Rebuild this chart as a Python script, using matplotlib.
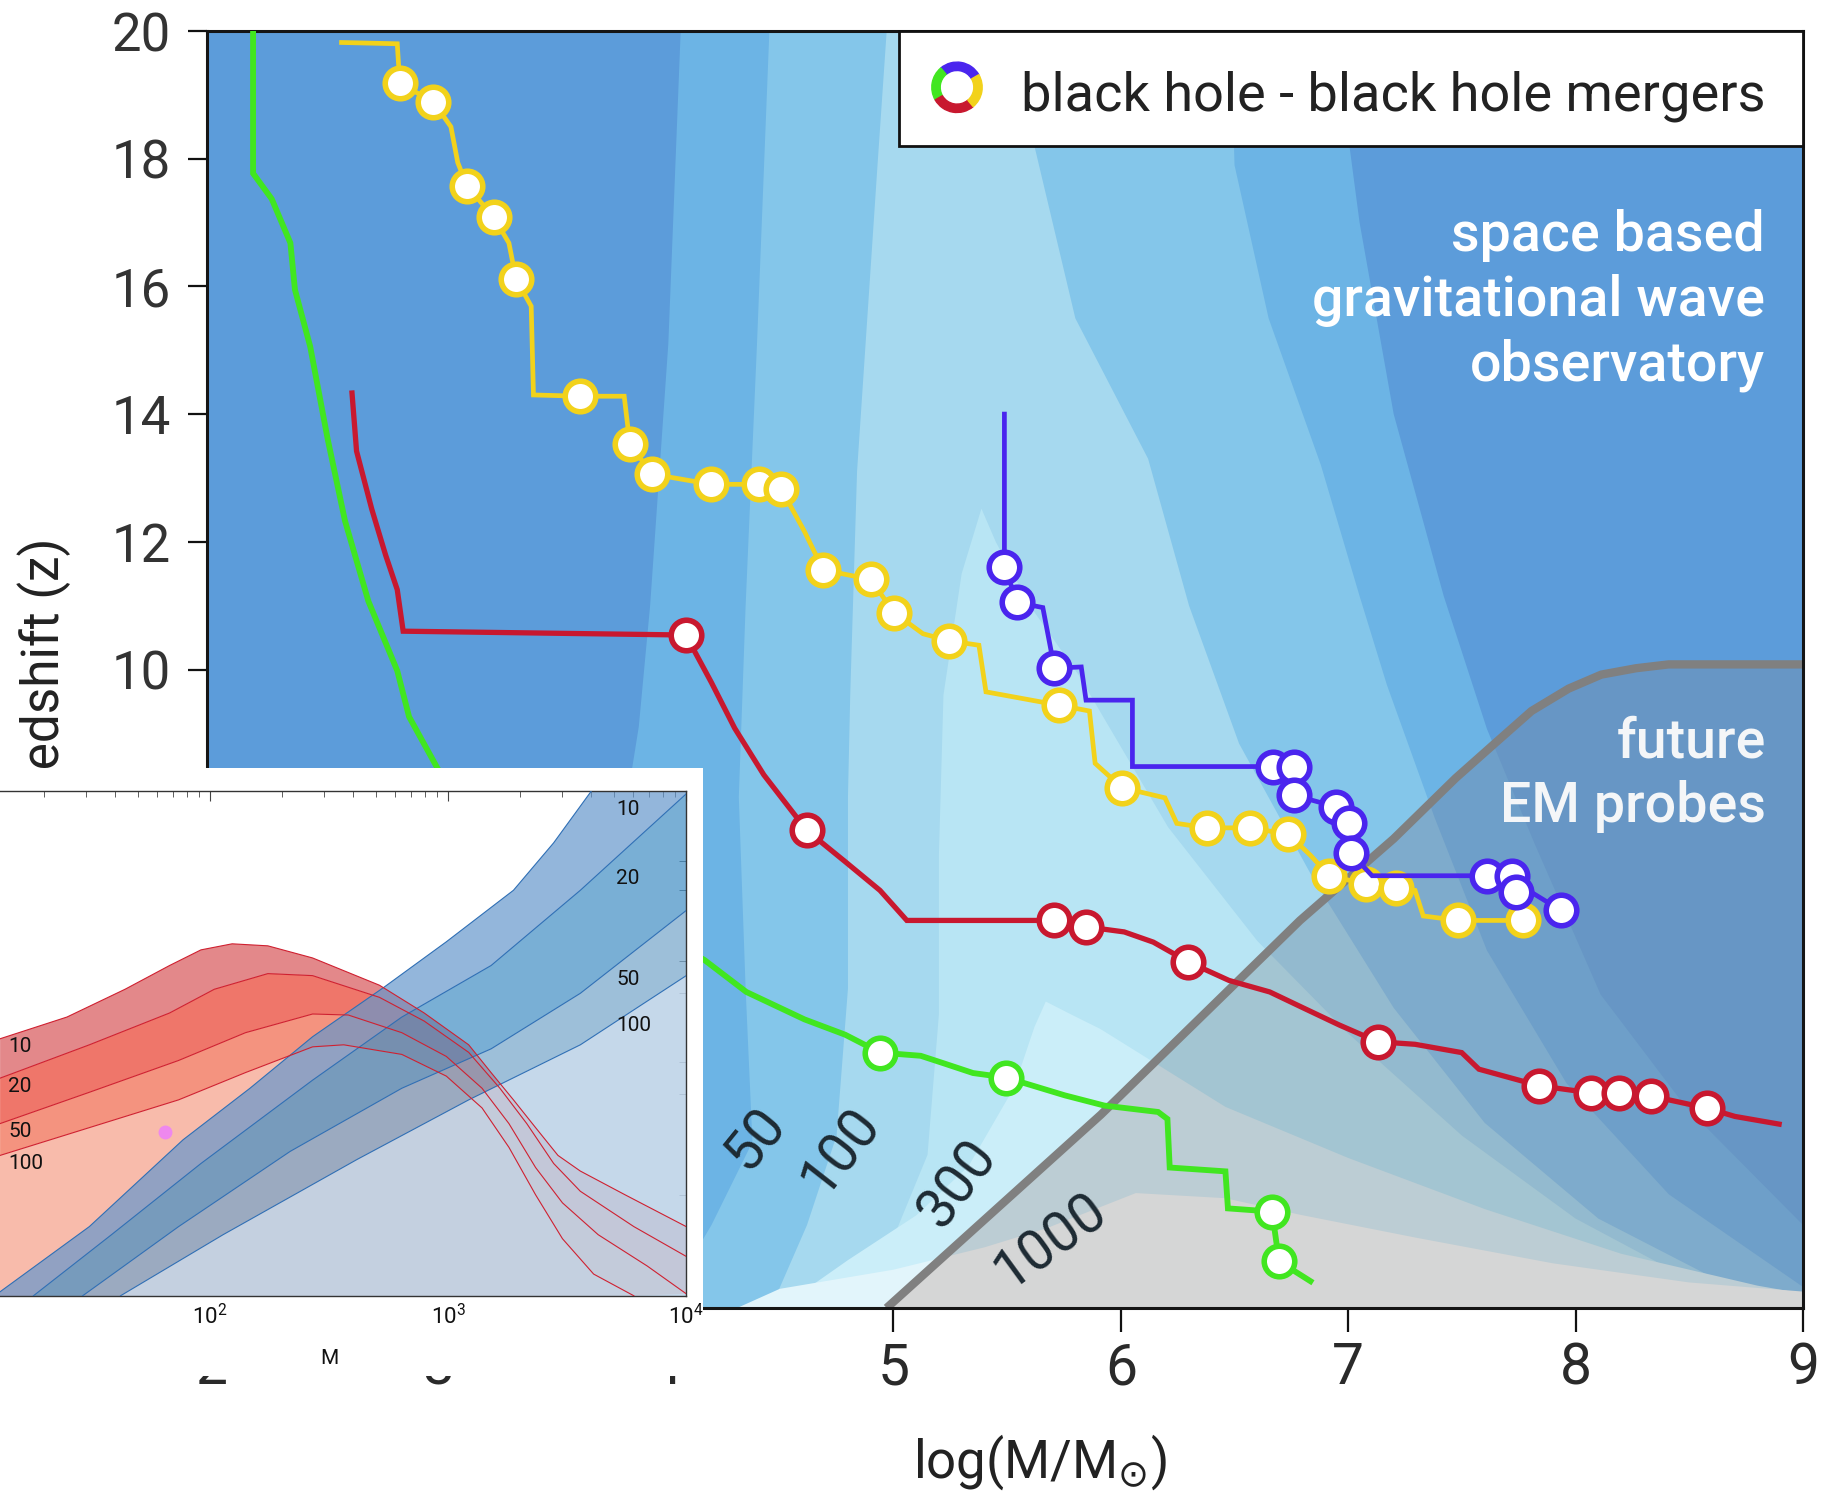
import numpy as np
import matplotlib
matplotlib.use("Agg")
import matplotlib.pyplot as plt
from matplotlib.patches import Polygon, Rectangle, Wedge
from matplotlib.ticker import NullLocator

plt.rcParams['font.family'] = ['Roboto', 'DejaVu Sans']

# ---------------- main panel: merger tracks (log M, z) ----------------
yellow_x = [2.573, 2.818, 2.829, 2.977, 3.054, 3.084, 3.125, 3.243, 3.309, 3.340, 3.407, 3.417,
            3.621, 3.816, 3.841, 3.939, 4.199, 4.409, 4.506, 4.609, 4.691, 4.900, 5.003, 5.130,
            5.243, 5.376, 5.407, 5.729, 5.862, 5.887, 6.005, 6.194, 6.246, 6.378, 6.568, 6.737,
            6.834, 6.916, 7.079, 7.212, 7.294, 7.330, 7.483, 7.770, 7.821]
yellow_z = [19.82, 19.80, 19.18, 18.89, 18.50, 17.94, 17.57, 17.08, 16.68, 16.12, 15.69, 14.30,
            14.28, 14.28, 13.53, 13.06, 12.90, 12.90, 12.83, 12.16, 11.56, 11.41, 10.89, 10.56,
            10.45, 10.38, 9.65, 9.44, 9.35, 8.53, 8.15, 7.99, 7.59, 7.52, 7.52, 7.42,
            7.09, 6.77, 6.64, 6.58, 6.54, 6.14, 6.07, 6.07, 5.99]
yellow_mx = [2.829, 2.977, 3.125, 3.243, 3.340, 3.621, 3.841, 3.939, 4.199, 4.409, 4.506, 4.691,
             4.900, 5.003, 5.243, 5.729, 6.005, 6.378, 6.568, 6.737, 6.916, 7.079, 7.212, 7.483, 7.770]
yellow_mz = [19.18, 18.89, 17.57, 17.08, 16.12, 14.28, 13.53, 13.06, 12.90, 12.90, 12.83, 11.56,
             11.41, 10.89, 10.45, 9.44, 8.15, 7.52, 7.52, 7.42, 6.77, 6.64, 6.58, 6.07, 6.07]

red_x = [2.619, 2.639, 2.706, 2.767, 2.818, 2.844, 4.087, 4.199, 4.302, 4.430, 4.619, 4.788,
         4.941, 5.059, 5.708, 5.847, 6.015, 6.143, 6.297, 6.476, 6.655, 6.808, 6.962, 7.130,
         7.294, 7.499, 7.575, 7.841, 8.066, 8.189, 8.332, 8.578, 8.701, 8.895]
red_z = [14.33, 13.42, 12.51, 11.79, 11.25, 10.60, 10.54, 9.80, 9.08, 8.35, 7.48, 6.99,
         6.54, 6.07, 6.07, 5.97, 5.89, 5.73, 5.42, 5.13, 4.95, 4.69, 4.43, 4.17,
         4.13, 4.00, 3.74, 3.48, 3.37, 3.37, 3.32, 3.13, 3.00, 2.88]
red_mx = [4.087, 4.619, 5.708, 5.847, 6.297, 7.130, 7.841, 8.066, 8.189, 8.332, 8.578]
red_mz = [10.54, 7.48, 6.07, 5.97, 5.42, 4.17, 3.48, 3.37, 3.37, 3.32, 3.13]

green_x = [2.184, 2.184, 2.266, 2.348, 2.368, 2.435, 2.512, 2.588, 2.691, 2.818, 2.870, 2.997,
           3.228, 3.739, 4.169, 4.353, 4.609, 4.788, 4.941, 5.120, 5.223, 5.350, 5.494, 5.754,
           5.928, 6.164, 6.205, 6.215, 6.460, 6.471, 6.665, 6.696, 6.834]
green_z = [20.0, 17.77, 17.37, 16.68, 15.95, 15.06, 13.61, 12.33, 11.07, 9.98, 9.26, 8.44,
           7.44, 6.36, 5.45, 4.95, 4.52, 4.28, 4.00, 3.95, 3.83, 3.68, 3.61, 3.33,
           3.17, 3.07, 2.96, 2.20, 2.14, 1.56, 1.51, 0.73, 0.42]
green_mx = [4.941, 5.494, 6.665, 6.696]
green_mz = [4.00, 3.61, 1.51, 0.73]

purple_x = [5.488, 5.488, 5.545, 5.657, 5.708, 5.826, 5.847, 6.051, 6.051, 6.670, 6.762,
            6.762, 6.946, 7.003, 7.013, 7.105, 7.611, 7.719, 7.739, 7.806, 7.934]
purple_z = [14.00, 11.61, 11.05, 10.97, 10.02, 10.04, 9.52, 9.52, 8.48, 8.48, 8.48,
            8.03, 7.85, 7.59, 7.12, 6.77, 6.77, 6.77, 6.51, 6.51, 6.23]
purple_mx = [5.488, 5.545, 5.708, 6.670, 6.762, 6.762, 6.946, 7.003, 7.013, 7.611, 7.719, 7.739, 7.934]
purple_mz = [11.61, 11.05, 10.02, 8.48, 8.48, 8.03, 7.85, 7.59, 7.12, 6.77, 6.77, 6.51, 6.23]

# future EM probes boundary
em_x = [4.97, 5.913, 6.788, 7.200, 7.473, 7.647, 7.806, 7.969, 8.113, 8.266, 8.409, 9.0]
em_z = [0.0, 3.03, 6.07, 7.35, 8.30, 8.85, 9.35, 9.70, 9.92, 10.02, 10.08, 10.08]

# SNR contour regions of the space based observatory (outline of each level)
snr20_x = [3.20, 3.45, 3.70, 3.88, 3.93, 4.01, 4.07, 6.92, 7.05, 7.20, 7.42, 7.61, 7.82, 8.11, 8.48, 9.00, 9.20]
snr20_z = [-0.5, 2.1, 5.1, 9.1, 11.0, 15.1, 20.5, 20.5, 17.0, 14.0, 11.15, 9.07, 7.27, 4.91, 3.17, 1.30, -0.5]
snr50_x = [3.90, 4.20, 4.38, 4.35, 4.32, 4.35, 4.40, 4.46, 6.48, 6.50, 6.65, 6.88, 7.05, 7.17, 7.38, 7.61, 7.96, 8.41, 9.00, 9.20]
snr50_z = [-0.5, 1.3, 2.6, 5.0, 8.0, 11.0, 15.1, 20.5, 20.5, 17.9, 15.5, 13.2, 11.15, 9.76, 7.68, 5.60, 3.52, 1.78, 0.33, -0.5]
snr100_x = [4.40, 4.62, 4.75, 4.80, 4.80, 4.81, 4.84, 4.93, 4.98, 5.58, 5.62, 5.80, 6.12, 6.30, 6.52, 6.85, 7.20, 7.60, 8.10, 8.70, 8.90]
snr100_z = [-0.5, 1.3, 2.7, 5.0, 8.0, 9.6, 13.1, 17.9, 20.5, 20.5, 18.2, 15.5, 13.3, 11.0, 8.84, 6.7, 4.7, 2.9, 1.4, 0.3, -0.5]
snr200_x = [4.80, 5.00, 5.15, 5.20, 5.20, 5.22, 5.30, 5.387, 5.45, 5.60, 5.815, 6.208, 6.60, 7.00, 7.50, 8.00, 8.50, 8.80]
snr200_z = [-0.5, 1.1, 2.4, 4.6, 7.1, 9.6, 11.5, 12.52, 12.0, 11.0, 9.91, 7.53, 5.75, 4.3, 2.7, 1.4, 0.45, -0.5]
snr300_x = [4.30, 4.80, 5.10, 5.33, 5.53, 5.62, 5.67, 5.78, 5.91, 6.46, 7.00, 7.60, 8.20, 8.80, 9.20, 9.20]
snr300_z = [-0.5, 0.75, 1.45, 2.22, 3.45, 4.4, 4.80, 4.6, 4.37, 3.15, 2.35, 1.55, 0.85, 0.35, 0.1, -0.5]
snr1000_x = [4.00, 4.50, 5.00, 5.40, 5.674, 6.066, 6.459, 6.789, 7.30, 7.90, 8.50, 9.20, 9.20]
snr1000_z = [-0.5, 0.3, 0.6, 0.95, 1.25, 1.80, 1.72, 1.46, 1.10, 0.70, 0.40, 0.20, -0.5]

sky_colors = ['#6cb4e5', '#84c6ea', '#a6d9ef', '#b8e5f4', '#cbeef9', '#e2f5fb']
em_colors = ['#6e9fc9', '#7eabcc', '#93bacf', '#a3c5d2', '#bccdd4', '#d5d6d6']
dark_sky = '#5c9cda'
dark_em = '#6796c5'

contour_labels = ['50', '100', '300', '1000']
label_x = [4.395, 4.769, 5.281, 5.691]
label_z = [2.65, 2.45, 1.94, 1.05]
label_rot = [51, 52, 53, 36]

# ---------------- inset: (M, arbitrary) bands ----------------
blue10_m = [1.118, 1.493, 1.887, 2.168, 2.431, 2.731, 2.993, 3.275, 3.444, 3.603]
blue10_y = [0.008, 0.137, 0.309, 0.411, 0.513, 0.611, 0.701, 0.803, 0.897, 1.000]
blue20_m = [1.258, 1.586, 1.962, 2.431, 2.806, 3.181, 3.556, 4.001]
blue20_y = [0.000, 0.121, 0.262, 0.427, 0.552, 0.654, 0.803, 0.994]
blue50_m = [1.465, 1.868, 2.337, 2.806, 3.181, 3.556, 4.001]
blue50_y = [0.000, 0.137, 0.286, 0.411, 0.489, 0.599, 0.763]
blue100_m = [1.624, 2.055, 2.618, 3.087, 3.556, 4.001]
blue100_y = [0.000, 0.121, 0.270, 0.388, 0.497, 0.634]

red10_m = [1.118, 1.399, 1.643, 1.830, 1.962, 2.093, 2.243, 2.431, 2.712, 2.900, 3.087, 3.181,
           3.275, 3.368, 3.462, 3.556, 3.744, 4.001]
red10_y = [0.509, 0.552, 0.607, 0.654, 0.685, 0.697, 0.693, 0.669, 0.615, 0.560, 0.497, 0.442,
           0.388, 0.333, 0.278, 0.247, 0.200, 0.137]
red20_m = [1.118, 1.493, 1.830, 2.018, 2.243, 2.431, 2.712, 2.900, 3.087, 3.218, 3.331, 3.444,
           3.556, 3.781, 4.001]
red20_y = [0.431, 0.497, 0.560, 0.607, 0.638, 0.634, 0.591, 0.544, 0.482, 0.411, 0.341, 0.262,
           0.207, 0.137, 0.078]
red50_m = [1.118, 1.493, 1.868, 2.149, 2.431, 2.581, 2.806, 2.993, 3.143, 3.256, 3.368, 3.481,
           3.631, 3.837, 4.001]
red50_y = [0.341, 0.403, 0.466, 0.521, 0.558, 0.556, 0.521, 0.474, 0.411, 0.341, 0.254, 0.184,
           0.121, 0.059, 0.004]
red100_m = [1.118, 1.493, 1.868, 2.149, 2.431, 2.562, 2.806, 2.993, 3.143, 3.256, 3.368, 3.481,
            3.612, 3.781]
red100_y = [0.278, 0.333, 0.388, 0.442, 0.493, 0.497, 0.478, 0.435, 0.372, 0.294, 0.200, 0.113,
            0.043, 0.000]

red_fill = ['#e3888a', '#ef766a', '#f4937f', '#f8bbab']
blue_fill = ['#6597cc', '#418ec4', '#74a4c9', '#bdd3e8']
blue_alpha = [0.7, 0.7, 0.7, 0.88]
band_names = ['10', '20', '50', '100']
red_label_y = [0.494, 0.415, 0.325, 0.262]
blue_label_y = [0.963, 0.826, 0.626, 0.536]
dot_m, dot_y = 1.812, 0.325
inset_yticks = [0.200, 0.399, 0.462, 0.599, 0.662, 0.803, 0.861]

W, H = 1826, 1496
fig = plt.figure(figsize=(W / 100, H / 100), dpi=100)
fig.patch.set_facecolor('white')

ax = fig.add_axes([206.7 / W, 1 - 1308 / H, 1596.3 / W, 1277 / H])
ax.set_facecolor(dark_sky)
ax.set_xlim(1.98, 9.0)
ax.set_ylim(0.15, 20.0)

bands = [(snr20_x, snr20_z), (snr50_x, snr50_z), (snr100_x, snr100_z),
         (snr200_x, snr200_z), (snr300_x, snr300_z), (snr1000_x, snr1000_z)]
for (bx, bz), col in zip(bands, sky_colors):
    ax.fill(bx, bz, color=col, lw=0, zorder=0.5)

# EM probe region: same contours, greyed
em_poly = Polygon(np.column_stack([[4.92] + em_x + [9.2, 9.2], [-0.2] + em_z + [10.08, -0.5]]),
                  closed=True, facecolor=dark_em, edgecolor='none', zorder=0.8)
ax.add_patch(em_poly)
for (bx, bz), col in zip(bands, em_colors):
    p = ax.fill(bx, bz, color=col, lw=0, zorder=0.9)[0]
    p.set_clip_path(em_poly)
ax.plot(em_x, em_z, color='#808080', lw=6, solid_capstyle='butt', zorder=2)

for txt, lx, lz, rot in zip(contour_labels, label_x, label_z, label_rot):
    ax.text(lx, lz, txt, rotation=rot, rotation_mode='anchor', ha='center', va='center',
            fontsize=40, color='#1d2a33', zorder=2.6)

tracks = [(green_x, green_z, green_mx, green_mz, '#41e620', 4.2),
          (red_x, red_z, red_mx, red_mz, '#c8182f', 3.8),
          (yellow_x, yellow_z, yellow_mx, yellow_mz, '#f2d21b', 3.4),
          (purple_x, purple_z, purple_mx, purple_mz, '#4a25ee', 3.4)]
for i, (tx, tz, mx, mz, col, lw) in enumerate(tracks):
    ax.plot(tx, tz, color=col, lw=lw, zorder=3 + i * 0.2, solid_joinstyle='miter')
    ax.plot(mx, mz, 'o', ms=22, mfc='white', mec=col, mew=4, zorder=3.1 + i * 0.2)

ax.text(0.976, 0.789, 'space based\ngravitational wave\nobservatory', transform=ax.transAxes,
        ha='right', va='center', multialignment='right', linespacing=1.28,
        fontsize=40, fontweight='medium', color='white', zorder=5)
ax.text(0.977, 0.418, 'future\nEM probes', transform=ax.transAxes,
        ha='right', va='center', multialignment='right', linespacing=1.28,
        fontsize=40, fontweight='medium', color='#f4f6f8', zorder=5)

ax.add_patch(Rectangle((0.4337, 0.9103), 0.5663, 0.0897, transform=ax.transAxes,
                       facecolor='white', edgecolor='#111111', lw=2, zorder=6, clip_on=False))
ax.text(0.510, 0.938, 'black hole - black hole mergers', transform=ax.transAxes,
        ha='left', va='baseline', fontsize=39, color='#222222', zorder=7)

ax.set_xticks(range(2, 10))
ax.set_yticks(range(0, 21, 2))
ax.tick_params(axis='x', direction='out', length=17, width=1.6, pad=7, labelsize=41,
               labelcolor='#2a2a2a', color='#111111')
ax.tick_params(axis='y', direction='out', length=14, width=1.6, pad=12, labelsize=38,
               labelcolor='#333333', color='#111111')
for s in ax.spines.values():
    s.set_linewidth(2.2)
    s.set_color('#151515')
ax.set_xlabel(r'log(M/M$_{\odot}$)', fontsize=38, color='#222222', va='center')
ax.xaxis.set_label_coords(0.522, -0.121)
ax.set_ylabel('Redshift (z)', fontsize=37, color='#222222', va='center')
ax.yaxis.set_label_coords(-0.102, 0.5)

# legend ring icon
ring = fig.add_axes([(957 - 28) / W, 1 - (87.3 + 28) / H, 56 / W, 56 / H])
ring.set_zorder(3)
ring.set_xlim(-1, 1)
ring.set_ylim(-1, 1)
ring.set_aspect('equal')
ring.axis('off')
for t1, t2, col in [(30, 130, '#4a25ee'), (130, 210, '#41e620'), (210, 310, '#c8182f'), (310, 390, '#f2d21b')]:
    ring.add_patch(Wedge((0, 0), 0.9, t1, t2, width=0.3, color=col))

# ---------------- inset ----------------
fig.add_artist(Rectangle((0, 1 - 1376 / H), 702.5 / W, (1376 - 767.7) / H,
                         transform=fig.transFigure, facecolor='white', edgecolor='none', zorder=1))
axi = fig.add_axes([-28 / W, 1 - 1295.8 / H, 714 / W, 505 / H])
axi.set_zorder(2)
axi.set_facecolor('white')
axi.set_xscale('log')
axi.set_xlim(10, 1e4)
axi.set_ylim(0, 1)


def m(a):
    return np.power(10.0, np.asarray(a, dtype=float))


red_lines = [(red10_m, red10_y), (red20_m, red20_y), (red50_m, red50_y), (red100_m, red100_y)]
for k in range(3):
    (ux, uy), (lx, ly) = red_lines[k], red_lines[k + 1]
    axi.fill(m(ux + lx[::-1]), uy + ly[::-1], color=red_fill[k], lw=0, zorder=1)
axi.fill(m(red100_m + [3.9, 1.0]), red100_y + [-0.1, -0.1], color=red_fill[3], lw=0, zorder=1)

blue_lines = [(blue10_m, blue10_y), (blue20_m, blue20_y), (blue50_m, blue50_y), (blue100_m, blue100_y)]
for k in range(3):
    (ux, uy), (lx, ly) = blue_lines[k], blue_lines[k + 1]
    axi.fill(m(ux + [4.3] + lx[::-1] + [1.0]), uy + [1.3] + ly[::-1] + [-0.3],
             color=blue_fill[k], alpha=blue_alpha[k], lw=0, zorder=2)
axi.fill(m(blue100_m + [4.3]), blue100_y + [-0.3], color=blue_fill[3], alpha=blue_alpha[3],
         lw=0, zorder=2)

for bx, by in blue_lines:
    axi.plot(m(bx), by, color='#2f6fb5', lw=0.8, zorder=3)
for rx, ry in red_lines:
    axi.plot(m(rx), ry, color='#cf2030', lw=0.8, zorder=3.1)
axi.plot(m([dot_m]), [dot_y], 'o', ms=10, color='#ee88ee', mec='none', zorder=4)

for name, ry in zip(band_names, red_label_y):
    axi.text(m(1.151), ry, name, ha='left', va='center', fontsize=15, color='#111111', zorder=5)
for name, by in zip(band_names, blue_label_y):
    axi.text(m(3.706), by, name, ha='left', va='center', fontsize=15, color='#111111', zorder=5)

axi.spines['left'].set_visible(False)
for s in ['top', 'right', 'bottom']:
    axi.spines[s].set_color('#333333')
    axi.spines[s].set_linewidth(1.0)
axi.set_xticks([1e2, 1e3, 1e4])
axi.tick_params(axis='x', which='both', direction='in', top=True, bottom=False,
                labelbottom=True, labelsize=16, pad=6, color='#444444', labelcolor='#111111')
axi.tick_params(axis='x', which='major', length=7, width=0.8)
axi.tick_params(axis='x', which='minor', length=4, width=0.6)
axi.set_yticks(inset_yticks)
axi.set_yticklabels([])
axi.yaxis.set_minor_locator(NullLocator())
axi.tick_params(axis='y', which='both', direction='in', left=False, right=True,
                length=5, width=0.6, color='#444444')
axi.set_xlabel('M', fontsize=15, color='#111111')
axi.xaxis.set_label_coords(0.5, -0.105)

fig.savefig('out.png', dpi=100)
